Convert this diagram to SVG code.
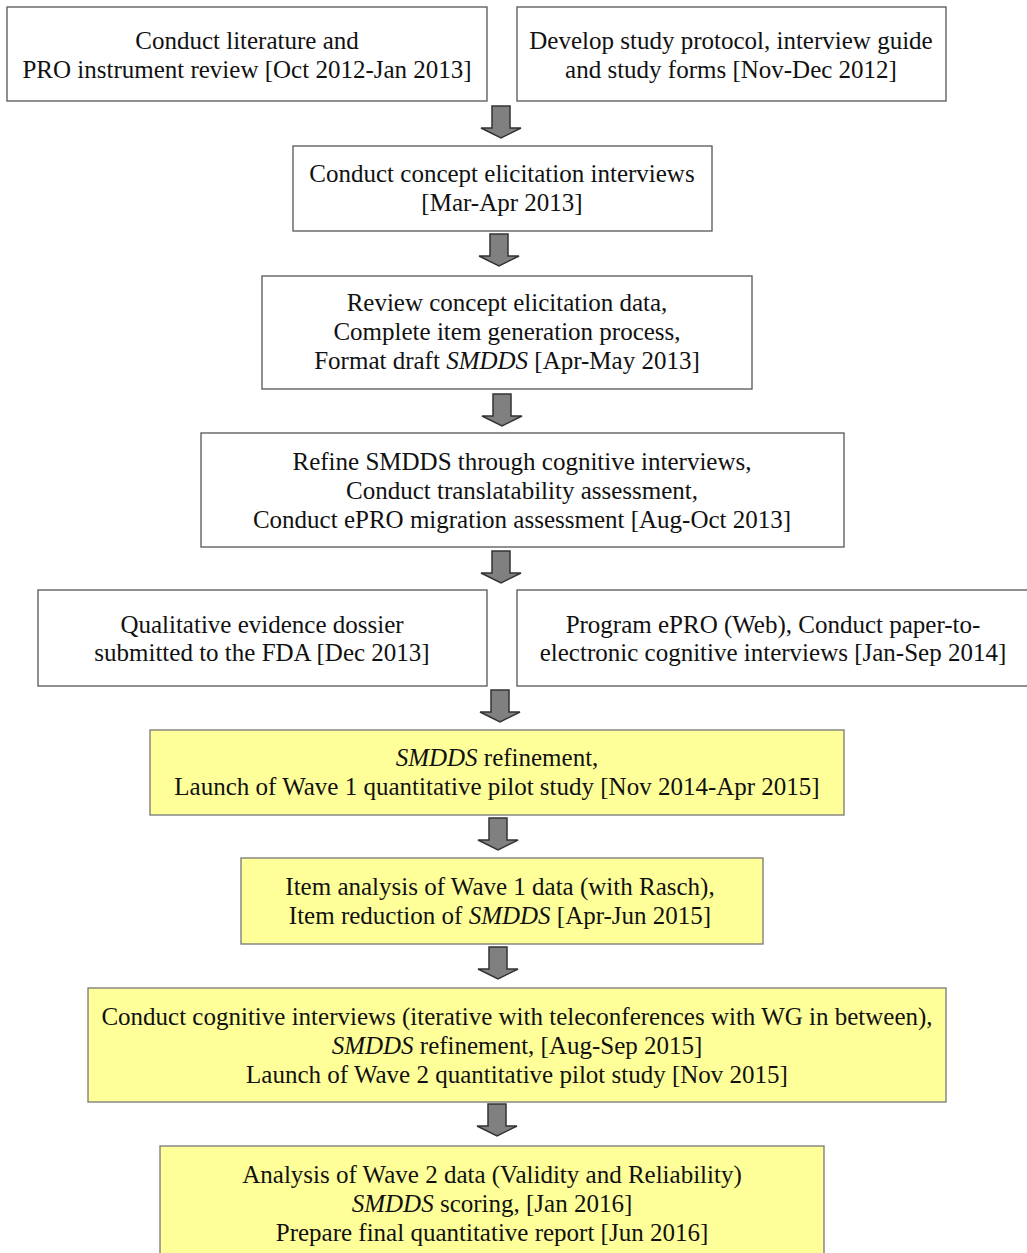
<svg xmlns="http://www.w3.org/2000/svg" width="1027" height="1253" viewBox="0 0 1027 1253">
<style>
.box{fill:#ffffff;stroke:#555555;stroke-width:1.3}
.ybox{fill:#ffff99;stroke:#777777;stroke-width:1.3}
text{font-family:"Liberation Serif","Times New Roman",serif;font-size:25px;fill:#111111;text-anchor:middle}
.i{font-style:italic}
.arr{fill:#808080;stroke:#333333;stroke-width:1.5;stroke-linejoin:miter}
</style>
<defs>
<path id="arrow" class="arr" d="M-9,0 H9 V22 H20 L0,32 L-20,22 H-9 Z"/>
</defs>
<rect width="1027" height="1253" fill="#ffffff"/>
<g id="connectors">
<use href="#arrow" x="501" y="106"/>
<use href="#arrow" x="499" y="234"/>
<use href="#arrow" x="502" y="394"/>
<use href="#arrow" x="501" y="551"/>
<use href="#arrow" x="500" y="690"/>
<use href="#arrow" x="498" y="818"/>
<use href="#arrow" x="498" y="947"/>
<use href="#arrow" x="497" y="1104"/>
</g>
<g id="n1"><rect class="box" x="7" y="7" width="480" height="94"/>
<text x="247" y="49">Conduct literature and</text>
<text x="247" y="78">PRO instrument review [Oct 2012-Jan 2013]</text></g>
<g id="n2"><rect class="box" x="517" y="7" width="429" height="94"/>
<text x="731" y="49">Develop study protocol, interview guide</text>
<text x="731" y="78">and study forms [Nov-Dec 2012]</text></g>
<g id="n3"><rect class="box" x="293" y="146" width="419" height="85"/>
<text x="502" y="182">Conduct concept elicitation interviews</text>
<text x="502" y="211">[Mar-Apr 2013]</text></g>
<g id="n4"><rect class="box" x="262" y="276" width="490" height="113"/>
<text x="507" y="311">Review concept elicitation data,</text>
<text x="507" y="340">Complete item generation process,</text>
<text x="507" y="369">Format draft <tspan class="i">SMDDS</tspan> [Apr-May 2013]</text></g>
<g id="n5"><rect class="box" x="201" y="433" width="643" height="114"/>
<text x="522" y="470">Refine SMDDS through cognitive interviews,</text>
<text x="522" y="499">Conduct translatability assessment,</text>
<text x="522" y="528">Conduct ePRO migration assessment [Aug-Oct 2013]</text></g>
<g id="n6"><rect class="box" x="38" y="590" width="449" height="96"/>
<text x="262" y="633">Qualitative evidence dossier</text>
<text x="262" y="661">submitted to the FDA [Dec 2013]</text></g>
<g id="n7"><rect class="box" x="517" y="590" width="515" height="96"/>
<text x="773" y="633">Program ePRO (Web), Conduct paper-to-</text>
<text x="773" y="661">electronic cognitive interviews [Jan-Sep 2014]</text></g>
<g id="n8"><rect class="ybox" x="150" y="730" width="694" height="85"/>
<text x="497" y="766"><tspan class="i">SMDDS</tspan> refinement,</text>
<text x="497" y="795">Launch of Wave 1 quantitative pilot study [Nov 2014-Apr 2015]</text></g>
<g id="n9"><rect class="ybox" x="241" y="858" width="522" height="86"/>
<text x="500" y="895">Item analysis of Wave 1 data (with Rasch),</text>
<text x="500" y="924">Item reduction of <tspan class="i">SMDDS</tspan> [Apr-Jun 2015]</text></g>
<g id="n10"><rect class="ybox" x="88" y="988" width="858" height="114"/>
<text x="517" y="1025">Conduct cognitive interviews (iterative with teleconferences with WG in between),</text>
<text x="517" y="1054"><tspan class="i">SMDDS</tspan> refinement, [Aug-Sep 2015]</text>
<text x="517" y="1083">Launch of Wave 2 quantitative pilot study [Nov 2015]</text></g>
<g id="n11"><rect class="ybox" x="160" y="1146" width="664" height="120"/>
<text x="492" y="1183">Analysis of Wave 2 data (Validity and Reliability)</text>
<text x="492" y="1212"><tspan class="i">SMDDS</tspan> scoring, [Jan 2016]</text>
<text x="492" y="1241">Prepare final quantitative report [Jun 2016]</text></g>
</svg>
